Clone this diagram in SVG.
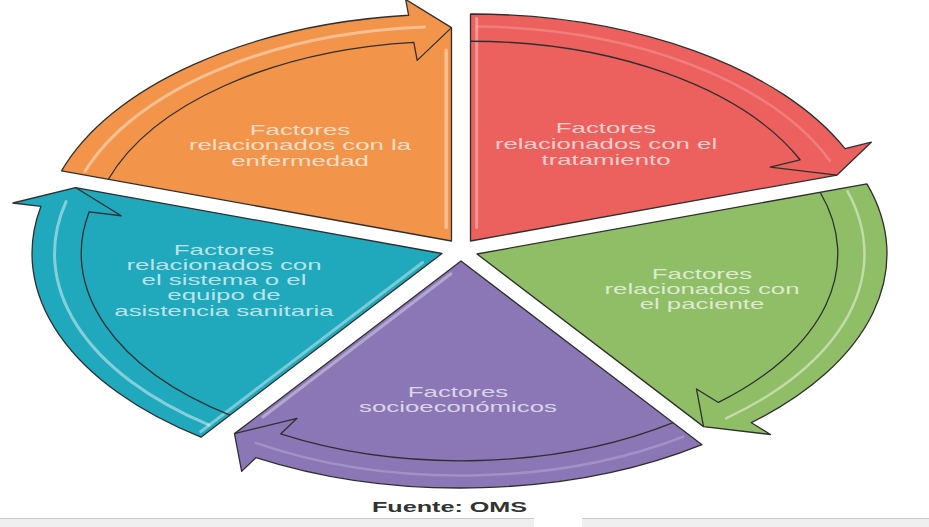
<svg xmlns="http://www.w3.org/2000/svg" xmlns:xlink="http://www.w3.org/1999/xlink" width="929" height="527" viewBox="0 0 929 527">
<style>
.w{stroke:#2f2f2f;stroke-width:1.3;stroke-linejoin:round}
.b{fill:none;stroke:#2f2f2f;stroke-width:1.3;stroke-linejoin:round}
.h{fill:none;stroke:#ffffff;stroke-linecap:round}
.lbl{font-family:"Liberation Sans",Arial,Helvetica,sans-serif;font-size:15px;fill:#ffffff;fill-opacity:.7;text-anchor:middle}
.src{font-family:"Liberation Sans",Arial,Helvetica,sans-serif;font-size:15px;font-weight:bold;fill:#333333;text-anchor:middle}
</style>
<defs>
  <path id="wedge" vector-effect="non-scaling-stroke" d="M0,0 L0,-100 A100,100 0 0 1 91.35,-40.67 L97.75,-43.52 L89.40,-29.05 Z"/>
  <path id="band" vector-effect="non-scaling-stroke" d="M0,-88 A88,88 0 0 1 80.39,-35.79 L73.08,-32.54 L89.40,-29.05"/>
  <path id="bandhl" vector-effect="non-scaling-stroke" d="M1.65,-94.49 A94.5,94.5 0 0 1 87.62,-35.40"/>
  <path id="hs" vector-effect="non-scaling-stroke" d="M1.5,-6 L1.5,-98"/>
  <path id="he" vector-effect="non-scaling-stroke" d="M5.3,-3.1 L79.5,-27.2"/>
</defs>

<rect x="0" y="0" width="929" height="527" fill="#ffffff"/>

<g id="node-tratamiento">
  <g transform="translate(470.5,241) scale(4.1,2.27)">
    <use xlink:href="#wedge" class="w" fill="#EC605E"/>
    <use xlink:href="#bandhl" class="h" stroke-width="2.5" stroke-opacity=".2"/>
    <use xlink:href="#hs" class="h" stroke-width="3" stroke-opacity=".35"/>
    <use xlink:href="#band" class="b"/>
  </g>
  <text class="lbl" transform="matrix(1.72 0 0 1 606 0)"><tspan x="0" y="133">Factores</tspan><tspan x="0" y="149">relacionados con el</tspan><tspan x="0" y="165">tratamiento</tspan></text>
</g>

<g id="node-paciente">
  <g transform="translate(477,254) scale(4.1,2.27) rotate(72)">
    <use xlink:href="#wedge" class="w" fill="#8FBE66"/>
    <use xlink:href="#bandhl" class="h" stroke-width="2.5" stroke-opacity=".45"/>
    <use xlink:href="#band" class="b"/>
  </g>
  <text class="lbl" transform="matrix(1.72 0 0 1 702 0)"><tspan x="0" y="279">Factores</tspan><tspan x="0" y="294">relacionados con</tspan><tspan x="0" y="309">el paciente</tspan></text>
</g>

<g id="node-socioeconomicos">
  <g transform="translate(461,261) scale(4.1,2.27) rotate(144)">
    <use xlink:href="#wedge" class="w" fill="#8B77B6"/>
    <use xlink:href="#bandhl" class="h" stroke-width="2.5" stroke-opacity=".2"/>
    <use xlink:href="#he" class="h" stroke-width="3" stroke-opacity=".35"/>
    <use xlink:href="#band" class="b"/>
  </g>
  <text class="lbl" transform="matrix(1.72 0 0 1 458 0)"><tspan x="0" y="397">Factores</tspan><tspan x="0" y="412">socioeconómicos</tspan></text>
</g>

<g id="node-sistema">
  <g transform="translate(442,253.5) scale(4.1,2.27) rotate(216)">
    <use xlink:href="#wedge" class="w" fill="#20A8BC"/>
    <use xlink:href="#bandhl" class="h" stroke-width="3" stroke-opacity=".45"/>
    <use xlink:href="#hs" class="h" stroke-width="3" stroke-opacity=".4"/>
    <use xlink:href="#band" class="b"/>
  </g>
  <text class="lbl" transform="matrix(1.72 0 0 1 224 0)"><tspan x="0" y="255">Factores</tspan><tspan x="0" y="270">relacionados con</tspan><tspan x="0" y="285">el sistema o el</tspan><tspan x="0" y="300">equipo de</tspan><tspan x="0" y="316">asistencia sanitaria</tspan></text>
</g>

<g id="node-enfermedad">
  <g transform="translate(451.5,241) scale(4.1,2.27) rotate(288)">
    <use xlink:href="#wedge" class="w" fill="#F2954B"/>
    <use xlink:href="#bandhl" class="h" stroke-width="3" stroke-opacity=".4"/>
    <use xlink:href="#he" class="h" stroke-width="3.5" stroke-opacity=".4"/>
    <use xlink:href="#band" class="b"/>
  </g>
  <text class="lbl" transform="matrix(1.72 0 0 1 300 0)"><tspan x="0" y="135">Factores</tspan><tspan x="0" y="150.5">relacionados con la</tspan><tspan x="0" y="166">enfermedad</tspan></text>
</g>

<text class="src" transform="matrix(1.68 0 0 1 449.5 0)" x="0" y="512">Fuente: OMS</text>

<g id="bottom-strip">
  <rect x="0" y="518" width="534" height="9" fill="#efefef"/>
  <rect x="582" y="518" width="347" height="9" fill="#efefef"/>
  <line x1="0" y1="518.5" x2="534" y2="518.5" stroke="#c8c8c8" stroke-width="1"/>
  <line x1="582" y1="518.5" x2="929" y2="518.5" stroke="#c8c8c8" stroke-width="1"/>
</g>
</svg>
